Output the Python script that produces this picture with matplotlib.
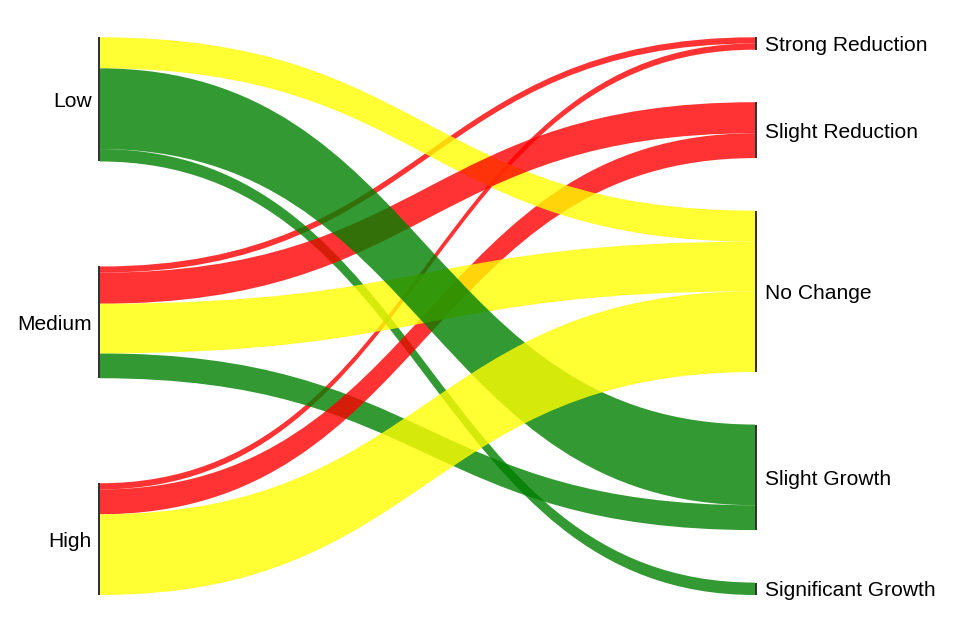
import matplotlib
matplotlib.use("Agg")
import matplotlib.pyplot as plt
from matplotlib.path import Path
from matplotlib.patches import PathPatch, Rectangle

# ---- data ----
sources = ["Low", "Medium", "High"]
targets = ["Strong Reduction", "Slight Reduction", "No Change", "Slight Growth", "Significant Growth"]
# flows[source][target]
flow_low = [0, 0, 5, 13, 2]
flow_medium = [1, 5, 8, 4, 0]
flow_high = [1, 4, 13, 0, 0]
flows = [flow_low, flow_medium, flow_high]
target_colors = [(1, 0, 0, 0.8), (1, 0, 0, 0.8), (1, 1, 0, 0.8), (0, 0.5, 0, 0.8), (0, 0.5, 0, 0.8)]

# ---- layout (pixel units) ----
W, H = 962, 644
TOP, BOTTOM = 37.3, 595.0
PAD = 52.5
LX0, LX1 = 98.0, 100.0
RX0, RX1 = 755.0, 757.0

fig = plt.figure(figsize=(W / 100, H / 100), dpi=100)
ax = fig.add_axes([0, 0, 1, 1])
ax.set_xlim(0, W)
ax.set_ylim(H, 0)
ax.axis("off")

src_tot = [sum(r) for r in flows]
tgt_tot = [sum(flows[i][j] for i in range(len(sources))) for j in range(len(targets))]
avail = BOTTOM - TOP
ky = min((avail - (len(sources) - 1) * PAD) / sum(src_tot),
         (avail - (len(targets) - 1) * PAD) / sum(tgt_tot))


def column_positions(tots):
    gap = (avail - sum(tots) * ky) / (len(tots) - 1)
    ys = []
    y = TOP
    for t in tots:
        ys.append(y)
        y += t * ky + gap
    return ys


src_y = column_positions(src_tot)
tgt_y = column_positions(tgt_tot)

# link offsets
links = []
src_off = list(src_y)
for i in range(len(sources)):
    for j in range(len(targets)):
        v = flows[i][j]
        if v > 0:
            links.append([i, j, v, src_off[i], None])
            src_off[i] += v * ky
tgt_off = list(tgt_y)
for j in range(len(targets)):
    for lk in links:
        if lk[1] == j:
            lk[4] = tgt_off[j]
            tgt_off[j] += lk[2] * ky

# draw in ascending value order (stable)
order = sorted(range(len(links)), key=lambda k: links[k][2])
xm = (LX1 + RX0) / 2
for k in order:
    i, j, v, y0, y1 = links[k]
    h = v * ky
    verts = [(LX1, y0), (xm, y0), (xm, y1), (RX0, y1),
             (RX0, y1 + h),
             (xm, y1 + h), (xm, y0 + h), (LX1, y0 + h),
             (LX1, y0)]
    codes = [Path.MOVETO, Path.CURVE4, Path.CURVE4, Path.CURVE4,
             Path.LINETO,
             Path.CURVE4, Path.CURVE4, Path.CURVE4,
             Path.CLOSEPOLY]
    ax.add_patch(PathPatch(Path(verts, codes), facecolor=target_colors[j],
                           edgecolor="none", lw=0))

font = dict(family=["Liberation Sans", "DejaVu Sans"], fontsize=15.1, color="black")
for i, name in enumerate(sources):
    h = src_tot[i] * ky
    ax.add_patch(Rectangle((LX0, src_y[i]), LX1 - LX0, h, facecolor="#333333", edgecolor="none"))
    ax.text(LX0 - 6, src_y[i] + h / 2 + 2, name, ha="right", va="center", **font)
for j, name in enumerate(targets):
    h = tgt_tot[j] * ky
    ax.add_patch(Rectangle((RX0, tgt_y[j]), RX1 - RX0, h, facecolor="#333333", edgecolor="none"))
    ax.text(RX1 + 8, tgt_y[j] + h / 2 + 2, name, ha="left", va="center", **font)

fig.savefig("out.png", dpi=100)
